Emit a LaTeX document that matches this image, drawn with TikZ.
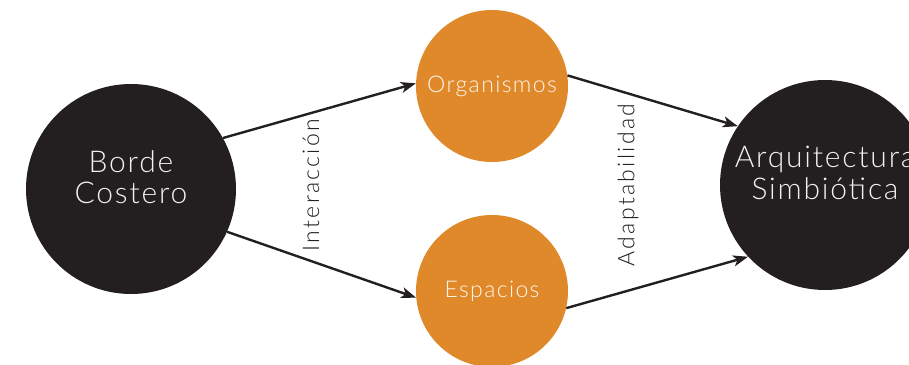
\documentclass[tikz,border=0pt]{standalone}
\usepackage{fontspec}
\setmainfont{Lato}[UprightFont=* Light, LetterSpace=6]
\newfontfamily\tagfont{Lato}[UprightFont=* Light, LetterSpace=10]
\usetikzlibrary{arrows.meta}
\definecolor{ink}{HTML}{231F20}
\definecolor{ochre}{HTML}{E0892A}
\tikzset{
	big/.style={circle, fill=ink, minimum size=210pt, inner sep=0pt},
	bigtext/.style={text=white!94!ink, align=center, yshift=12pt, font=\fontsize{30}{31.5}\selectfont},
	small/.style={circle, fill=ochre, minimum size=152pt, inner sep=0pt, text=white!92!ochre, font=\fontsize{23}{24}\selectfont},
	link/.style={-{Stealth[length=15pt, width=11pt, inset=4pt]}, line width=2.4pt, draw=ink},
	tag/.style={rotate=90, text=ink, font=\tagfont\fontsize{23}{24}\selectfont}
}
\begin{document}
\begin{tikzpicture}[x=1pt, y=-1pt]
		\clip (0, 0) rectangle (909, 364);
		\node [big, label={[bigtext]center:Borde\\Costero}] (0) at (131, 189) {};
		\node [small] (1) at (492, 86) {Organismos};
		\node [small] (2) at (492, 291) {Espacios};
		\node [big, label={[bigtext]center:Arquitectura\\Simbiótica}] (3) at (825, 185) {};
		\draw [link] (0.29) to (1.178);
		\draw [link] (0.-24) to (2.185);
		\draw [link] (1.8) to (3.146);
		\draw [link] (2.-13) to (3.223);
		\node [tag] (4) at (311, 185) {Interacción};
		\node [tag] (5) at (628, 185) {Adaptabilidad};
\end{tikzpicture}
\end{document}
